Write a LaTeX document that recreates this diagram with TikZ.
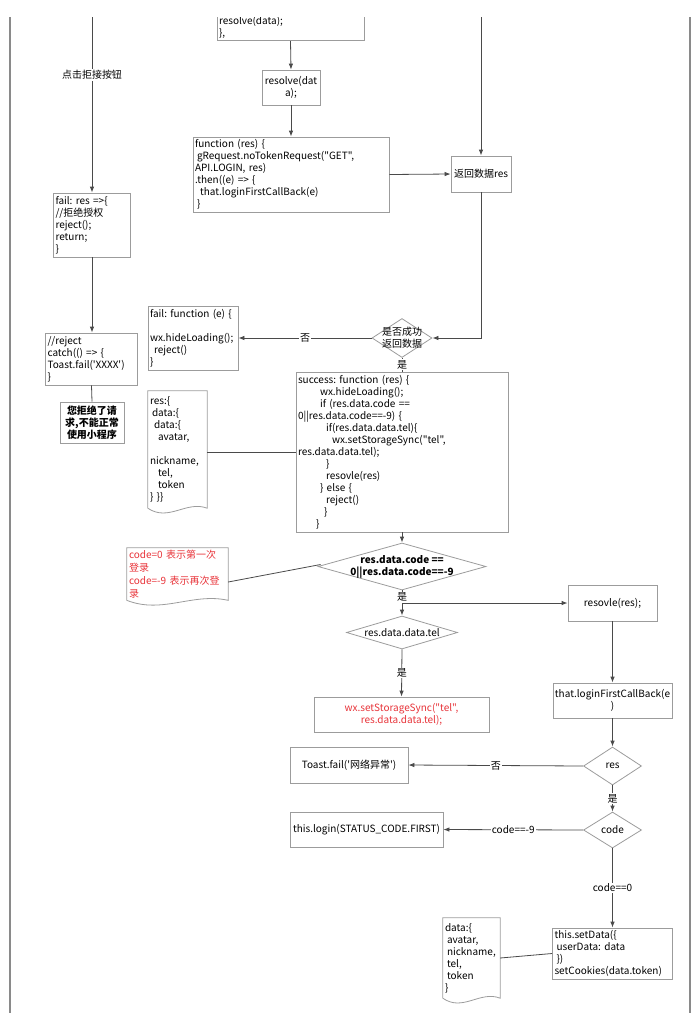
\documentclass[tikz,border=0pt]{standalone}
\usepackage{fontspec}
\setmainfont{Noto Sans CJK SC}[Ligatures=TeXOff]
\usetikzlibrary{shapes.geometric,arrows.meta,positioning,calc}
\definecolor{boxgray}{HTML}{9C9C9C}
\definecolor{linegray}{HTML}{4A4A4A}
\definecolor{framegray}{HTML}{8A8A8A}
\definecolor{notered}{HTML}{E8343A}
\frenchspacing
\newcommand\codefont{\fontsize{10}{12}\selectfont}
\tikzset{box/.style={draw=boxgray,fill=white,line width=0.8pt,inner sep=2pt,font=\codefont}}
\tikzset{leftbox/.style={box,align=left}}
\tikzset{midbox/.style={box,align=center}}
\tikzset{docnode/.style={inner sep=2pt,align=left,font=\codefont}}
\tikzset{decision/.style={diamond,draw=boxgray,fill=white,line width=0.8pt,inner sep=0pt}}
\tikzset{decisiontext/.style={align=center,font=\codefont}}
% outline of a document shape round a named node
\newcommand\docoutline[1]{%
  \draw[boxgray,line width=0.8pt] (#1.south west) -- (#1.north west) -- (#1.north east) -- (#1.south east)
    .. controls ($(#1.south east)!0.35!(#1.south west)+(0,-8)$) and ($(#1.south east)!0.65!(#1.south west)+(0,14)$) .. (#1.south west);}

\begin{document}
\begin{tikzpicture}[x=1pt,y=-1pt,
  flow/.style={draw=linegray,line width=0.8pt,-{Latex[length=6pt,width=4.5pt]}},
  link/.style={draw=linegray,line width=0.8pt},
  tag/.style={fill=white,inner sep=1pt,font=\codefont}]
\useasboundingbox (0,0) rectangle (691,1013);
\clip (0,17) rectangle (691,1013);

% frame
\draw[framegray,line width=2pt] (10,17) -- (10,1013) (690,17) -- (690,1013);

% left column
\coordinate (lefttop) at (92,17);
\node[leftbox,text width=73pt,minimum height=64pt] (failres) at (92,225) {fail: res =>\{\\//拒绝授权\\reject();\\return;\\\}};
\node[leftbox,text width=88pt,minimum height=52pt] (rejectcatch) at (91.5,359) {//reject\\catch(() => \{\\Toast.fail('XXXX')\\\}};
\node[midbox,font=\codefont\bfseries,minimum width=64pt,minimum height=41pt] (refuse) at (92,422.5) {您拒绝了请\\求,不能正常\\使用小程序};

% middle column
\node[leftbox,text width=143pt,anchor=south] (resolvetail) at (290.5,41) {resolve(data);\\\},};
\node[midbox,minimum width=58pt,minimum height=35pt] (resolvedata) at (291,87.5) {resolve(dat\\a);};
\node[leftbox,text width=192pt,minimum height=75pt] (notoken) at (291,174.5) {function (res) \{\\\hspace*{2pt}gRequest.noTokenRequest("GET",\\API.LOGIN, res)\\.then((e) => \{\\\hspace*{5pt}that.loginFirstCallBack(e)\\\hspace*{2pt}\}};
\coordinate (righttop) at (481,17);
\node[midbox,minimum width=60pt,minimum height=36pt] (backres) at (481,174) {返回数据res};
\node[decision,minimum width=60pt,minimum height=39pt,label={[decisiontext]center:是否成功\\返回数据}] (judge) at (402,338) {};
\node[leftbox,text width=86pt,minimum height=64pt] (failfunc) at (193,338) {fail: function (e) \{\\\mbox{}\\wx.hideLoading();\\\hspace*{4pt}reject()\\\}};
\node[leftbox,text width=208pt,minimum height=160pt] (success) at (402,452) {success: function (res) \{\\
\hspace*{22pt}wx.hideLoading();\\
\hspace*{22pt}if (res.data.code ==\\
0||res.data.code==-9) \{\\
\hspace*{28pt}if(res.data.data.tel)\{\\
\hspace*{34pt}wx.setStorageSync("tel",\\
res.data.data.tel);\\
\hspace*{28pt}\}\\
\hspace*{28pt}resovle(res)\\
\hspace*{22pt}\} else \{\\
\hspace*{28pt}reject()\\
\hspace*{26pt}\}\\
\hspace*{18pt}\}};
\node[docnode,text width=55pt,minimum height=117pt] (resdoc) at (177.5,449.5) {res:\{\\\hspace*{2pt}data:\{\\\hspace*{4pt}data:\{\\\hspace*{8pt}avatar,\\\mbox{}\\nickname,\\\hspace*{8pt}tel,\\\hspace*{8pt}token\\\} \}\}};
\docoutline{resdoc}

% lower half
\node[decision,minimum width=168pt,minimum height=47pt,label={[decisiontext,font=\codefont\bfseries]center:res.data.code ==\\0||res.data.code==-9}] (codejudge) at (402,566.5) {};
\node[docnode,text width=97pt,minimum height=52pt,text=notered,font=\fontsize{10}{13}\selectfont] (note) at (177.5,574) {code=0 表示第一次\\登录\\code=-9 表示再次登\\录};
\docoutline{note}
\coordinate (branch) at (402,603);
\node[midbox,minimum width=89pt,minimum height=36pt] (resovle) at (612.5,603) {resovle(res);};
\node[decision,minimum width=111pt,minimum height=33pt,label={[decisiontext]center:res.data.data.tel}] (teljudge) at (402,632.5) {};
\node[midbox,minimum width=175pt,minimum height=35pt,text=notered] (setstorage) at (401.5,714.5) {wx.setStorageSync("tel",\\res.data.data.tel);};
\node[midbox,minimum width=119pt,minimum height=35pt] (loginfirst) at (612.5,700.5) {that.loginFirstCallBack(e\\)};
\node[decision,minimum width=58pt,minimum height=38pt,label={[decisiontext]center:res}] (resjudge) at (612.5,766) {};
\node[midbox,minimum width=118pt,minimum height=36pt] (toast) at (349,765) {Toast.fail('网络异常')};
\node[decision,minimum width=58pt,minimum height=36pt,label={[decisiontext]center:code}] (codecheck) at (612.5,830) {};
\node[midbox,minimum width=153pt,minimum height=35pt] (login) at (366.5,829.5) {this.login(STATUS\_CODE.FIRST)};
\node[leftbox,text width=116pt,minimum height=51pt] (setdata) at (612.5,953.5) {this.setData(\{\\\hspace*{2pt}userData: data\\\hspace*{2pt}\})\\setCookies(data.token)};
\node[docnode,text width=53pt,minimum height=80pt] (datadoc) at (471.5,958) {data:\{\\\hspace*{2pt}avatar,\\\hspace*{2pt}nickname,\\\hspace*{2pt}tel,\\\hspace*{2pt}token\\\}};
\docoutline{datadoc}

% connectors
\draw[flow] (lefttop) -- node[tag,pos=0.33]{点击拒接按钮} (failres.north);
\draw[flow] (failres.south) -- (failres.south |- rejectcatch.north);
\draw[link] (rejectcatch.south) -- (refuse.north);
\draw[flow] (resolvetail.south) -- (resolvedata.north);
\draw[flow] (resolvedata.south) -- (notoken.north);
\draw[flow] (notoken.east) -- (backres.west);
\draw[flow] (righttop) -- (backres.north);
\draw[flow] (backres.south) |- (judge.east);
\draw[flow] (judge.west) -- node[tag]{否} (failfunc.east);
\draw[link] (judge.south) -- node[tag]{是} (success.north);
\draw[link] (success.west -| resdoc.east) -- (success.west);
\draw[flow] (success.south) -- (codejudge.north);
\draw[link] ([yshift=-8pt]note.east) -- ([xshift=3pt,yshift=2pt]codejudge.west);
\draw[flow] (codejudge.south) -- node[tag,pos=0.27]{是} (teljudge.north);
\draw[flow] (branch) -- (resovle.west);
\draw[flow] (teljudge.south) -- node[tag]{是} (setstorage.north);
\draw[flow] (resovle.south) -- (loginfirst.north);
\draw[flow] (loginfirst.south) -- (resjudge.north);
\draw[flow] (resjudge.west) -- node[tag]{否} (toast.east);
\draw[flow] (resjudge.south) -- node[tag]{是} (codecheck.north);
\draw[flow] (codecheck.west) -- node[tag]{code==-9} (login.east);
\draw[flow] (codecheck.south) -- node[tag]{code==0} (setdata.north);
\draw[link] (datadoc.east) -- (setdata.west);
\end{tikzpicture}
\end{document}
